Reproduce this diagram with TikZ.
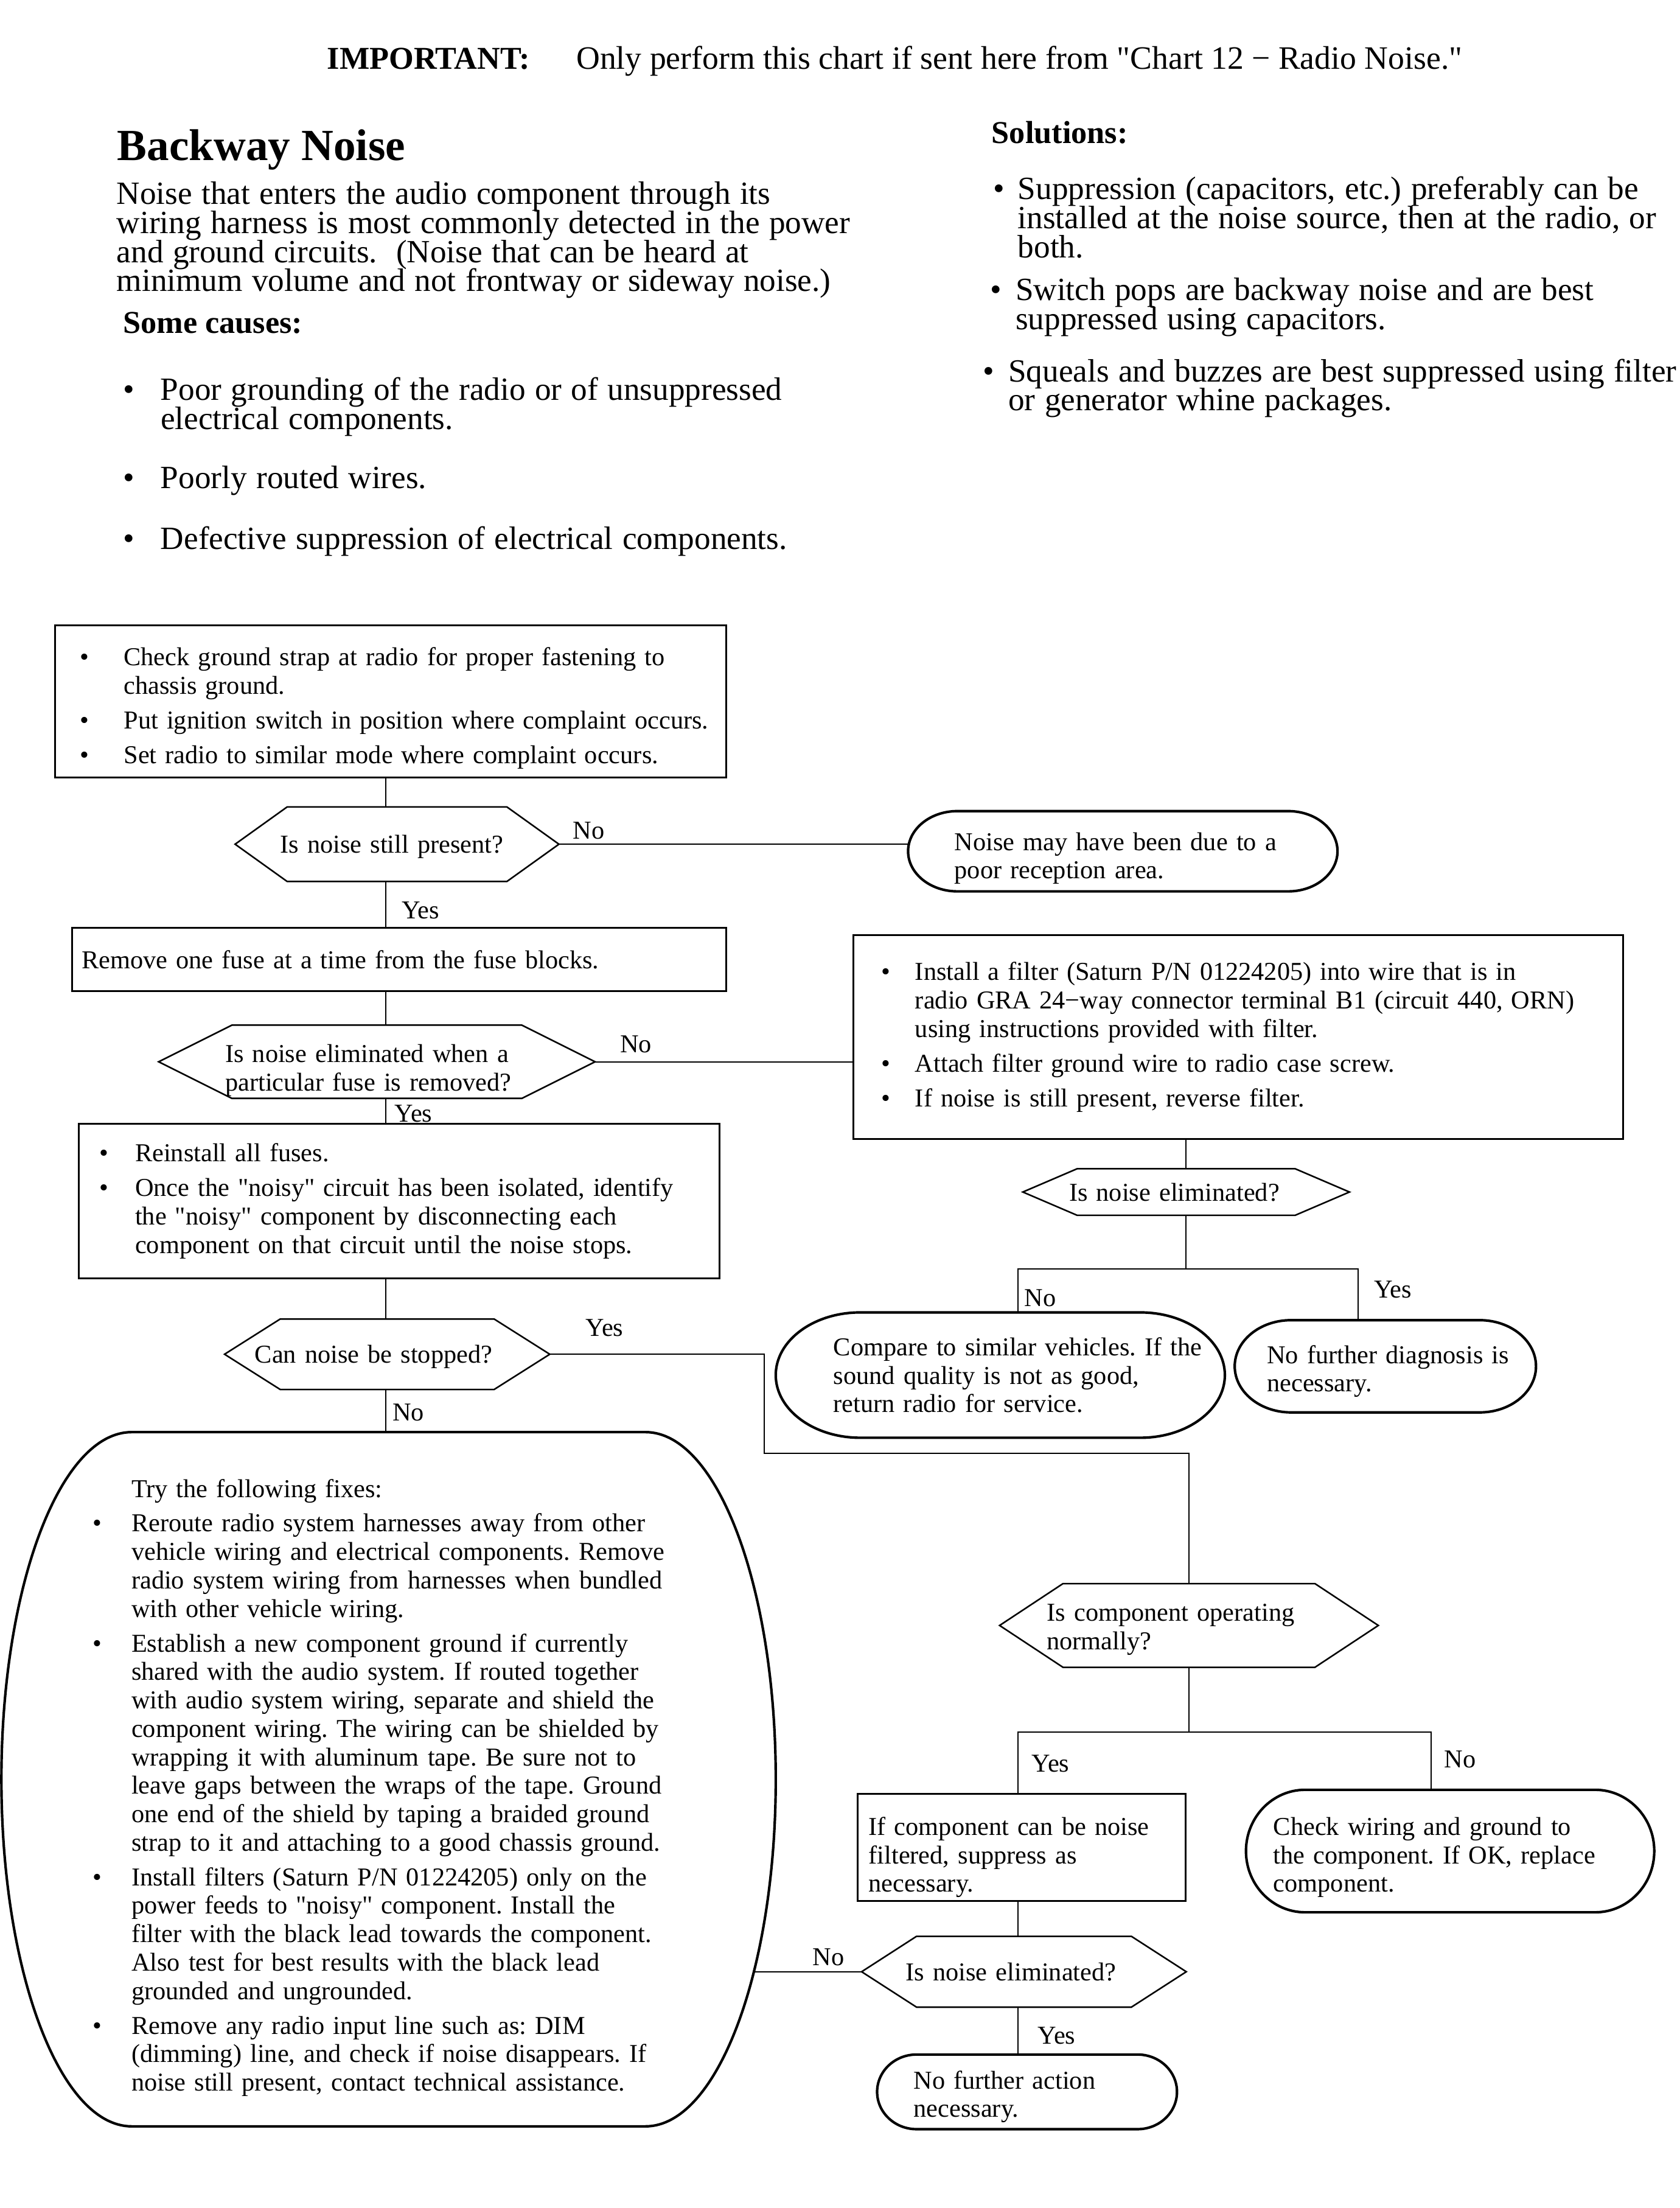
\documentclass[tikz,border=0pt]{standalone}
\usepackage{fontspec}
\setmainfont{Liberation Serif}
\usepackage{tikz}
\usetikzlibrary{calc}
\newdimen\bulind
\newcommand\flowfont{\fontsize{9.15}{10.1}\selectfont}
\newcommand\introfont{\fontsize{11.5}{10.3}\selectfont\lineskiplimit=-20pt\lineskip=0pt}
\newcommand\headfont{\fontsize{11.3}{12}\selectfont}
\newcommand\notefont{\fontsize{11.6}{12}\selectfont}
\newcommand\titlefont{\fontsize{15.8}{18}\selectfont\bfseries}
\newcommand\qq{\textquotedbl}
\newcommand\bitem[1]{\hangindent=\bulind\hangafter=1\noindent\hbox to\bulind{\textbullet\hfil}#1\par}
\newcommand\hexframe[2]{\draw[hexline] ($(#1.north west)+(#2,0)$) -- ($(#1.north east)+(-#2,0)$) -- (#1.east)
  -- ($(#1.south east)+(-#2,0)$) -- ($(#1.south west)+(#2,0)$) -- (#1.west) -- cycle;}
\newcommand\termframe[3]{\draw[termline] ($(#1.north west)+(#2,0)$) -- ($(#1.north east)+(-#2,0)$)
  arc[start angle=90, end angle=-90, x radius=#2*0.5pt, y radius=#3*0.5pt]
  -- ($(#1.south west)+(#2,0)$)
  arc[start angle=270, end angle=90, x radius=#2*0.5pt, y radius=#3*0.5pt] -- cycle;}
\tikzset{
  flowbox/.style={rectangle, draw, line width=0.65pt, inner xsep=0pt, inner ysep=2pt, outer sep=0pt,
    align=left, font=\flowfont},
  shapetext/.style={rectangle, inner xsep=0pt, inner ysep=1pt, outer sep=0pt, align=left, font=\flowfont},
  flowpad/.style 2 args={execute at begin node={\flowfont\leftskip=#1\bulind=#2\parskip=2.2pt}},
  tdown/.style={execute at end node={\par\kern-#1pt}},
  headpad/.style={execute at begin node={\introfont\leftskip=0pt\bulind=#1\parskip=0pt}},
  hexline/.style={line width=0.55pt},
  termline/.style={line width=0.9pt},
  conn/.style={line width=0.43pt},
  lbl/.style={font=\flowfont, inner sep=0pt, anchor=west}
}

\begin{document}
\frenchspacing
\begin{tikzpicture}[x=0.5pt, y=0.5pt]
\fill[white] (0,0) rectangle (1193,-1568);
\useasboundingbox (0,0) rectangle (1193,-1568);

\node[anchor=base west, inner sep=0pt, font=\headfont\bfseries] (imp) at (232,-49) {IMPORTANT:};
\node[anchor=base west, inner sep=0pt, font=\notefont] (only) at (409,-49)
  {Only perform this chart if sent here from \qq Chart 12 − Radio Noise.\qq};
\node[anchor=base west, inner sep=0pt, font=\titlefont] (title) at (83,-114) {Backway Noise};
\node[anchor=west, inner sep=0pt, text width=290pt, align=left, headpad=0pt] (intro) at (82.5,-170.5)
  {Noise that enters the audio component through its\newline
   wiring harness is most commonly detected in the power\newline
   and ground circuits.\ \ (Noise that can be heard at\newline
   minimum volume and not frontway or sideway noise.)};
\node[anchor=base west, inner sep=0pt, font=\headfont\bfseries] (causes) at (87,-236.5) {Some causes:};
\node[anchor=west, inner sep=0pt, text width=250pt, align=left, headpad=13.35pt] (cz1) at (87,-289)
  {\bitem{Poor grounding of the radio or of unsuppressed\newline electrical components.}};
\node[anchor=west, inner sep=0pt, text width=250pt, align=left, headpad=13.35pt] (cz2) at (87,-341.3)
  {\bitem{Poorly routed wires.}};
\node[anchor=west, inner sep=0pt, text width=250pt, align=left, headpad=13.35pt] (cz3) at (87,-384.4)
  {\bitem{Defective suppression of electrical components.}};

\node[anchor=base west, inner sep=0pt, font=\headfont\bfseries] (sol) at (704,-101.6) {Solutions:};
\node[anchor=west, inner sep=0pt, text width=240pt, align=left, headpad=8.8pt] (so1) at (705,-154.3)
  {\bitem{Suppression (capacitors, etc.) preferably can be\newline
   installed at the noise source, then at the radio, or\newline both.}};
\node[anchor=west, inner sep=0pt, text width=240pt, align=left, headpad=8.95pt] (so2) at (703.1,-218.1)
  {\bitem{Switch pops are backway noise and are best\newline suppressed using capacitors.}};
\node[anchor=west, inner sep=0pt, text width=247pt, align=left, headpad=8.95pt] (so3) at (698,-275.8)
  {\bitem{Squeals and buzzes are best suppressed using filter\newline or generator whine packages.}};

\node[flowbox, text width=238.5pt, minimum height=54pt, flowpad={9pt}{15.5pt}, tdown=5] (chk) at (277.5,-498)
  {\bitem{Check ground strap at radio for proper fastening to\newline chassis ground.}
   \bitem{Put ignition switch in position where complaint occurs.}
   \bitem{Set radio to similar mode where complaint occurs.}};
\node[shapetext, text width=115pt, minimum height=26.5pt, flowpad={16pt}{0pt}, tdown=3.5] (stillq) at (282,-599.5)
  {Is noise still present?};
\node[shapetext, text width=152.5pt, minimum height=28.5pt, flowpad={16.5pt}{0pt}, tdown=5] (recep) at (797.5,-604.5)
  {Noise may have been due to a\newline poor reception area.};
\node[flowbox, text width=232.5pt, minimum height=22.5pt, flowpad={3.5pt}{0pt}, tdown=5.5] (fuse) at (283.5,-681.5)
  {Remove one fuse at a time from the fuse blocks.};
\node[shapetext, text width=155pt, minimum height=26pt, flowpad={23.65pt}{0pt}, tdown=6] (fuseq) at (267.7,-754)
  {Is noise eliminated when a\newline particular fuse is removed?};
\node[flowbox, text width=273.5pt, minimum height=72.5pt, flowpad={10pt}{12pt}] (filt) at (879.5,-736.5)
  {\bitem{Install a filter (Saturn P/N 01224205) into wire that is in\newline
    radio GRA 24−way connector terminal B1 (circuit 440, ORN)\newline
    using instructions provided with filter.}
   \bitem{Attach filter ground wire to radio case screw.}
   \bitem{If noise is still present, reverse filter.}};
\node[flowbox, text width=227.5pt, minimum height=55pt, flowpad={7.3pt}{12.7pt}] (reinst) at (283.5,-853)
  {\bitem{Reinstall all fuses.}
   \bitem{Once the \qq noisy\qq{} circuit has been isolated, identify\newline
    the \qq noisy\qq{} component by disconnecting each\newline
    component on that circuit until the noise stops.}};
\node[shapetext, text width=116pt, minimum height=16.5pt, flowpad={16.45pt}{0pt}, tdown=3] (elimq) at (842.5,-846.5)
  {Is noise eliminated?};
\node[shapetext, text width=115.5pt, minimum height=25pt, flowpad={10.75pt}{0pt}, tdown=6] (stopq) at (275,-961.7)
  {Can noise be stopped?};
\node[shapetext, text width=159.5pt, minimum height=44.5pt, flowpad={20.5pt}{0pt}] (cmpv) at (710.5,-976.5)
  {Compare to similar vehicles. If the\newline sound quality is not as good,\newline return radio for service.};
\node[shapetext, text width=107pt, minimum height=32.75pt, flowpad={11.5pt}{0pt}, tdown=3.5] (nodiag) at (984,-970.25)
  {No further diagnosis is\newline necessary.};
\node[shapetext, text width=275pt, minimum height=246.5pt, flowpad={32.5pt}{13.7pt}, tdown=6] (fixes) at (276,-1263.5)
  {\noindent\hspace*{\bulind}Try the following fixes:\par
   \bitem{Reroute radio system harnesses away from other\newline
    vehicle wiring and electrical components. Remove\newline
    radio system wiring from harnesses when bundled\newline
    with other vehicle wiring.}
   \bitem{Establish a new component ground if currently\newline
    shared with the audio system. If routed together\newline
    with audio system wiring, separate and shield the\newline
    component wiring. The wiring can be shielded by\newline
    wrapping it with aluminum tape. Be sure not to\newline
    leave gaps between the wraps of the tape. Ground\newline
    one end of the shield by taping a braided ground\newline
    strap to it and attaching to a good chassis ground.}
   \bitem{Install filters (Saturn P/N 01224205) only on the\newline
    power feeds to \qq noisy\qq{} component. Install the\newline
    filter with the black lead towards the component.\newline
    Also test for best results with the black lead\newline
    grounded and ungrounded.}
   \bitem{Remove any radio input line such as: DIM\newline
    (dimming) line, and check if noise disappears. If\newline
    noise still present, contact technical assistance.}};
\node[shapetext, text width=134.5pt, minimum height=29.7pt, flowpad={16.8pt}{0pt}, tdown=3] (operq) at (844.5,-1154.3)
  {Is component operating\newline normally?};
\node[flowbox, text width=116.5pt, minimum height=38pt, flowpad={4pt}{0pt}, tdown=7] (supp) at (725.5,-1312)
  {If component can be noise\newline filtered, suppress as\newline necessary.};
\node[shapetext, text width=145pt, minimum height=43.5pt, flowpad={9.75pt}{0pt}, tdown=4.5] (chkw) at (1030,-1314.5)
  {Check wiring and ground to\newline the component. If OK, replace\newline component.};
\node[shapetext, text width=115.3pt, minimum height=25.15pt, flowpad={15.7pt}{0pt}, tdown=4] (elimtwo) at (727.3,-1400.2)
  {Is noise eliminated?};
\node[shapetext, text width=106.5pt, minimum height=26.5pt, flowpad={13pt}{0pt}, tdown=3.5] (noact) at (729.5,-1485.5)
  {No further action\newline necessary.};

\hexframe{stillq}{37}
\hexframe{fuseq}{52}
\hexframe{elimq}{38.5}
\hexframe{stopq}{39.5}
\hexframe{operq}{45}
\hexframe{elimtwo}{39}
\termframe{recep}{35}{28.5}
\termframe{cmpv}{60}{44.5}
\termframe{nodiag}{40}{32.75}
\termframe{fixes}{92.5}{246.5}
\termframe{chkw}{42}{43.5}
\termframe{noact}{28}{26.5}

\coordinate (sx) at (274,0);
\coordinate (jl3) at (723,-901);
\coordinate (jr3) at (964.7,-901);
\coordinate (ya) at (543,-1032);
\coordinate (jl5) at (723,-1230);
\coordinate (jr5) at (1016.3,-1230);
\coordinate (fixno) at (535.5,-1400.2);

\draw[conn] (chk.south -| sx) -- (stillq.north -| sx);
\draw[conn] (stillq.east) -- (stillq.east -| recep.west);
\draw[conn] (stillq.south -| sx) -- (fuse.north -| sx);
\draw[conn] (fuse.south -| sx) -- (fuseq.north -| sx);
\draw[conn] (fuseq.east) -- (fuseq.east -| filt.west);
\draw[conn] (fuseq.south -| sx) -- (reinst.north -| sx);
\draw[conn] (elimq.north |- filt.south) -- (elimq.north);
\draw[conn] (elimq.south) -- (elimq.south |- jl3);
\draw[conn] (jl3 |- cmpv.north) -- (jl3) -- (jr3) -- (jr3 |- nodiag.north);
\draw[conn] (reinst.south -| sx) -- (stopq.north -| sx);
\draw[conn] (stopq.east) -| (ya) -| (operq.north);
\draw[conn] (stopq.south -| sx) -- (fixes.north -| sx);
\draw[conn] (operq.south) -- (operq.south |- jl5);
\draw[conn] (jl5 |- supp.north) -- (jl5) -- (jr5) -- (jr5 |- chkw.north);
\draw[conn] (supp.south -| jl5) -- (elimtwo.north -| jl5);
\draw[conn] (elimtwo.west) -- (fixno);
\draw[conn] (elimtwo.south -| jl5) -- (noact.north -| jl5);

\node[lbl] (l1) at (406.5,-590) {No};
\node[lbl] (l2) at (285,-646.5) {Yes};
\node[lbl] (l3) at (440,-741.7) {No};
\node[lbl] (l4) at (280,-790.7) {Yes};
\node[lbl] (l5) at (727.3,-921.6) {No};
\node[lbl] (l6) at (975.5,-915.9) {Yes};
\node[lbl] (l7) at (415.7,-943) {Yes};
\node[lbl] (l8) at (278.5,-1003) {No};
\node[lbl] (l9) at (732.5,-1252.2) {Yes};
\node[lbl] (l10) at (1025.4,-1249.3) {No};
\node[lbl] (l11) at (576.8,-1390) {No};
\node[lbl] (l12) at (736.8,-1445.8) {Yes};
\end{tikzpicture}
\end{document}
